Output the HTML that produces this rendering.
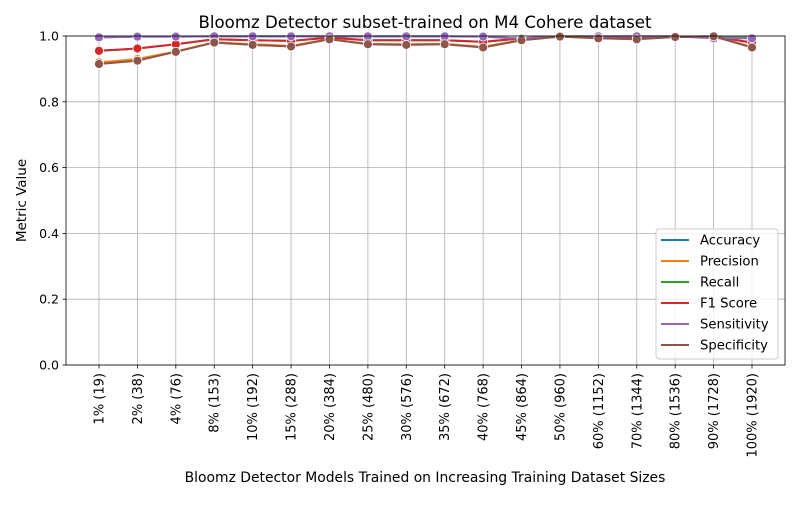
<!DOCTYPE html>
<html><head><meta charset="utf-8"><style>
body{margin:0;background:#fff;font-family:"Liberation Sans","DejaVu Sans",sans-serif}
svg text{font-family:"DejaVu Sans","Liberation Sans",sans-serif}
</style></head><body>
<svg id="c" width="800" height="500"></svg>
<script>
const categories=["1% (19)","2% (38)","4% (76)","8% (153)","10% (192)","15% (288)","20% (384)","25% (480)","30% (576)","35% (672)","40% (768)","45% (864)","50% (960)","60% (1152)","70% (1344)","80% (1536)","90% (1728)","100% (1920)"];
const accuracy=[0.955,0.962,0.975,0.990,0.987,0.985,0.995,0.987,0.987,0.987,0.982,0.993,0.999,0.996,0.995,0.998,0.999,0.980];
const precision=[0.920,0.930,0.953,0.981,0.975,0.970,0.991,0.976,0.975,0.976,0.967,0.988,0.998,0.993,0.991,0.997,0.999,0.967];
const recall=[0.996,0.998,0.998,0.999,0.999,0.999,0.999,0.999,0.999,0.999,0.998,0.992,0.999,0.999,0.999,0.999,0.995,0.995];
const f1=[0.955,0.962,0.975,0.990,0.987,0.985,0.995,0.987,0.987,0.987,0.982,0.993,0.999,0.996,0.995,0.998,0.999,0.980];
const sensitivity=[0.996,0.998,0.998,0.999,0.999,0.999,0.999,0.999,0.999,0.999,0.998,0.992,0.999,0.999,0.999,0.999,0.993,0.993];
const specificity=[0.915,0.925,0.952,0.980,0.973,0.968,0.990,0.975,0.973,0.975,0.965,0.987,0.998,0.993,0.990,0.997,0.999,0.965];
const yTicks=[0,0.2,0.4,0.6,0.8,1.0];
const seriesNames=["Accuracy","Precision","Recall","F1 Score","Sensitivity","Specificity"];
const seriesData=[accuracy,precision,recall,f1,sensitivity,specificity];
const colors=["#1f77b4","#ff7f0e","#2ca02c","#d62728","#9467bd","#8c564b"];
const L=66,R=785,T=36,B=365;
const x0=99,x1=752;
const xs=i=>x0+i*(x1-x0)/(categories.length-1);
const ys=v=>B-(v-0)*(B-T)/1.0;
const svg=document.getElementById('c');
const NS="http://www.w3.org/2000/svg";
function mk(t,a,p){const e=document.createElementNS(NS,t);for(const k in a)e.setAttribute(k,a[k]);(p||svg).appendChild(e);return e;}
let e;
e=mk('text',{x:425,y:28,'font-size':16.6,'text-anchor':'middle',fill:'#000'});e.textContent="Bloomz Detector subset-trained on M4 Cohere dataset";


yTicks.forEach(v=>{
  e=mk('line',{x1:L,x2:R,y1:ys(v),y2:ys(v),stroke:'#b0b0b0','stroke-width':0.8});
  
  
  e=mk('line',{x1:L-3.5,x2:L,y1:ys(v),y2:ys(v),stroke:'#000','stroke-width':0.8});
  e=mk('text',{x:L-7,y:ys(v)+4.5,'font-size':12.5,'text-anchor':'end',fill:'#000'});e.textContent=v.toFixed(1);
  
  
});
categories.forEach((c,i)=>{
  e=mk('line',{x1:xs(i),x2:xs(i),y1:T,y2:B,stroke:'#b0b0b0','stroke-width':0.8});
  
  
  mk('line',{x1:xs(i),x2:xs(i),y1:B,y2:B+3.5,stroke:'#000','stroke-width':0.8});
  e=mk('text',{x:0,y:0,'font-size':13,'text-anchor':'end',fill:'#000',transform:`translate(${xs(i)+4.5},${B+8}) rotate(-90)`});e.textContent=c;
  
  
});
seriesData.forEach((d,s)=>{
  const g=mk('g',{});
  
  
  mk('polyline',{points:d.map((v,i)=>xs(i)+','+ys(v)).join(' '),fill:'none',stroke:colors[s],'stroke-width':2},g);
  d.forEach((v,i)=>{
    const p=mk('circle',{cx:xs(i),cy:ys(v),r:4.5,fill:colors[s],stroke:'#fff','stroke-width':0.8},g);
    
    
  });
});
e=mk('rect',{x:L,y:T,width:R-L,height:B-T,fill:'none',stroke:'#000','stroke-width':0.8});


e=mk('text',{x:0,y:0,'font-size':13.5,'text-anchor':'middle',fill:'#000',transform:`translate(26,${(T+B)/2}) rotate(-90)`});e.textContent="Metric Value";


e=mk('text',{x:425,y:482,'font-size':13.9,'text-anchor':'middle',fill:'#000'});e.textContent="Bloomz Detector Models Trained on Increasing Training Dataset Sizes";


const lg=mk('g',{});


mk('rect',{x:656,y:229,width:122,height:130,rx:3,fill:'#fff','fill-opacity':0.8,stroke:'#ccc'},lg);
seriesNames.forEach((n,s)=>{
  const y=240+s*21;
  const it=mk('g',{},lg);
  
  
  mk('line',{x1:661,x2:689,y1:y,y2:y,stroke:colors[s],'stroke-width':2},it);
  const t=mk('text',{x:700,y:y+4.5,'font-size':13.2,fill:'#000'},it);t.textContent=n;
});
</script>
</body></html>
